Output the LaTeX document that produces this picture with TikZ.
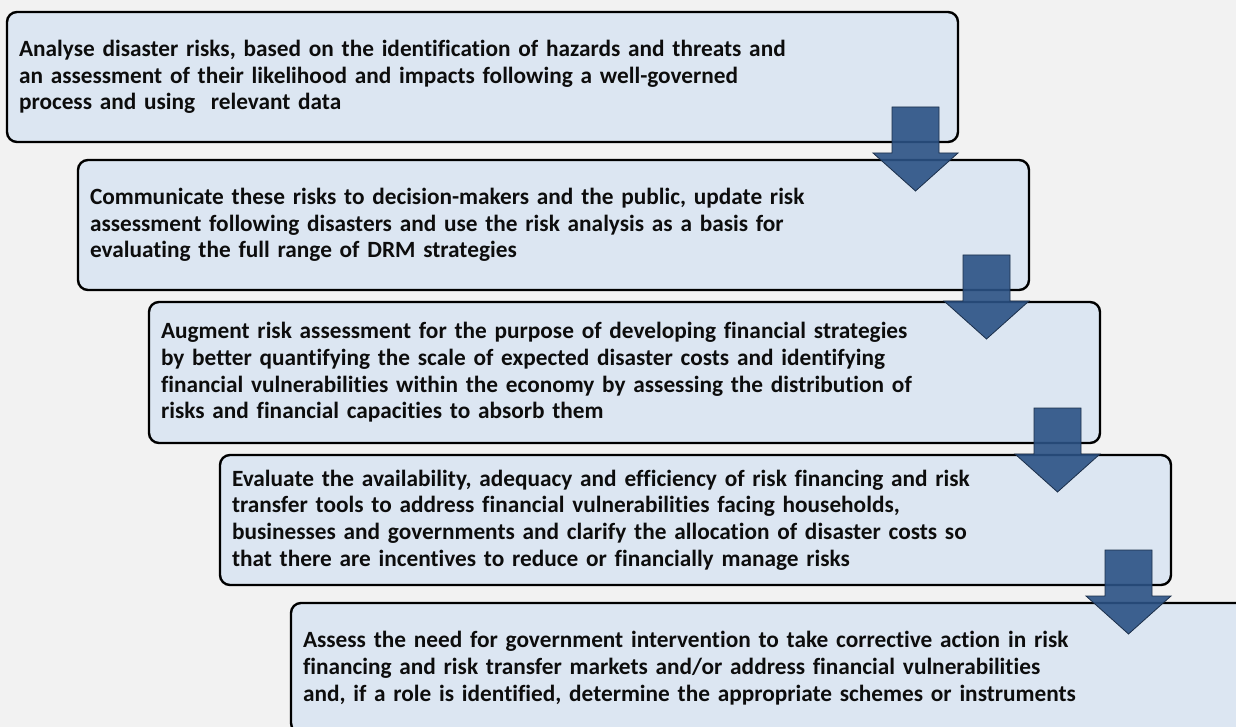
\documentclass[tikz,border=0pt]{standalone}
\usepackage{fontspec}
\setmainfont{Carlito}[Ligatures=NoCommon]
\usepackage{tikz}
\usetikzlibrary{calc,positioning}

\definecolor{bggray}{HTML}{F2F2F2}
\definecolor{boxblue}{HTML}{DCE6F2}
\definecolor{arrowblue}{HTML}{2B5285}
\definecolor{arrowedge}{HTML}{1B2F4A}
\definecolor{textblack}{HTML}{0D0D0D}

\tikzset{
	stagebox/.style={draw=black, line width=2.4pt, fill=boxblue, rounded corners=10pt,
		anchor=north west, outer sep=0pt, inner xsep=12pt, align=left, text=textblack,
		minimum width=951pt, text width=927pt,
		font={\fontsize{23.3}{26.7}\selectfont\bfseries}},
	arrowstyle/.style={draw=arrowedge, line width=0.8pt, fill=arrowblue, fill opacity=0.9}
}

% block arrow hanging from the lower right corner of a box
\newcommand{\blockarrow}[1]{%
	\draw[arrowstyle] ($(#1.south east)+(-19,-35)$) -- ($(#1.south east)+(-19,11)$) -- ($(#1.south east)+(0,11)$) -- ($(#1.south east)+(-42.5,49)$) -- ($(#1.south east)+(-85,11)$) -- ($(#1.south east)+(-66,11)$) -- ($(#1.south east)+(-66,-35)$) -- cycle;}

\begin{document}
\begin{tikzpicture}[x=1pt, y=-1pt]
	\clip (0,0) rectangle (1236,727);
	\fill[bggray] (0,0) rectangle (1236,727);

	% The five stages, each shifted to the right
	\node[stagebox, minimum height=130pt] (analyse) at (7,12) {Analyse disaster risks, based on the identification of hazards and threats and\\ an assessment of their likelihood and impacts following a well-governed\\ process and using \ relevant data};
	\node[stagebox, minimum height=130pt] (communicate) at ($(analyse.south west)+(71,18)$) {Communicate these risks to decision-makers and the public, update risk\\ assessment following disasters and use the risk analysis as a basis for\\ evaluating the full range of DRM strategies};
	\node[stagebox, minimum height=141pt] (augment) at ($(communicate.south west)+(71,12)$) {Augment risk assessment for the purpose of developing financial strategies\\ by better quantifying the scale of expected disaster costs and identifying\\ financial vulnerabilities within the economy by assessing the distribution of\\ risks and financial capacities to absorb them};
	\node[stagebox, minimum height=130pt] (evaluate) at ($(augment.south west)+(71,12)$) {Evaluate the availability, adequacy and efficiency of risk financing and risk\\ transfer tools to address financial vulnerabilities facing households,\\ businesses and governments and clarify the allocation of disaster costs so\\ that there are incentives to reduce or financially manage risks};
	\node[stagebox, minimum height=130pt, minimum width=955pt, text width=931pt] (assess) at ($(evaluate.south west)+(71,18)$) {Assess the need for government intervention to take corrective action in risk\\ financing and risk transfer markets and/or address financial vulnerabilities\\ and, if a role is identified, determine the appropriate schemes or instruments};

	% Arrows from one stage to the next
	\blockarrow{analyse}
	\blockarrow{communicate}
	\blockarrow{augment}
	\blockarrow{evaluate}
\end{tikzpicture}
\end{document}
